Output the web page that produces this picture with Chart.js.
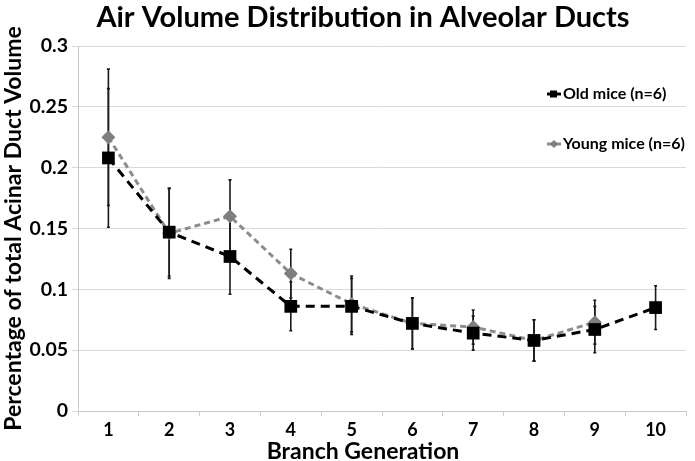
<!DOCTYPE html>
<html>
<head>
<meta charset="utf-8">
<script src="https://cdn.jsdelivr.net/npm/chart.js@4"></script>
<style>
  body { margin: 0; background: #fff; }
  #wrap { width: 695px; height: 461px; }
</style>
</head>
<body>
<div id="wrap"><canvas id="chart"></canvas></div>
<script>
const chart_title = "Air Volume Distribution in Alveolar Ducts";
const x_title = "Branch Generation";
const y_title = "Percentage of total Acinar Duct Volume";
const generations = ["1", "2", "3", "4", "5", "6", "7", "8", "9", "10"];
const old_mice = [0.208, 0.147, 0.127, 0.086, 0.086, 0.072, 0.064, 0.058, 0.067, 0.085];
const old_err = [0.057, 0.036, 0.031, 0.020, 0.023, 0.021, 0.014, 0.017, 0.019, 0.018];
const young_mice = [0.225, 0.146, 0.160, 0.113, 0.088, 0.072, 0.069, 0.058, 0.073, null];
const young_err = [0.056, 0.037, 0.030, 0.020, 0.023, 0.021, 0.014, 0.017, 0.018, null];
const y_ticks = [0, 0.05, 0.1, 0.15, 0.2, 0.25, 0.3];

const FONT = "Lato, 'Open Sans', sans-serif";

// error bars, drawn under the markers
const errorBars = {
  id: "errorBars",
  beforeDatasetsDraw(chart) {
    const ctx = chart.ctx;
    const ys = chart.scales.y;
    chart.data.datasets.forEach((ds, i) => {
      const meta = chart.getDatasetMeta(i);
      ctx.save();
      ctx.strokeStyle = "#1a1a1a";
      ctx.lineWidth = 1.6;
      meta.data.forEach((pt, j) => {
        const v = ds.data[j], e = ds.err[j];
        if (v == null || e == null) return;
        const top = ys.getPixelForValue(v + e);
        const bot = ys.getPixelForValue(v - e);
        ctx.beginPath();
        ctx.moveTo(pt.x, top); ctx.lineTo(pt.x, bot);
        ctx.moveTo(pt.x - 1.5, top); ctx.lineTo(pt.x + 1.5, top);
        ctx.moveTo(pt.x - 1.5, bot); ctx.lineTo(pt.x + 1.5, bot);
        ctx.stroke();
      });
      ctx.restore();
    });
  }
};

// titles + legend in the places the excel chart had them
const extras = {
  id: "extras",
  afterDraw(chart) {
    const ctx = chart.ctx;
    ctx.save();
    ctx.fillStyle = "#000";
    ctx.textAlign = "center";
    ctx.textBaseline = "alphabetic";
    ctx.font = "bold 29px " + FONT;
    ctx.fillText(chart_title, 363, 27);
    ctx.font = "bold 23px " + FONT;
    ctx.fillText(x_title, 363, 459);

    // legend
    const rows = [94, 144];
    chart.data.datasets.forEach((ds, i) => {
      const y = rows[i];
      ctx.save();
      ctx.strokeStyle = ds.borderColor;
      ctx.lineWidth = 3;
      ctx.beginPath();
      ctx.moveTo(547, y); ctx.lineTo(561, y);
      ctx.stroke();
      ctx.fillStyle = ds.pointBackgroundColor;
      if (ds.pointStyle === "rect") {
        ctx.fillRect(550, y - 3.5, 7, 7);
      } else {
        ctx.beginPath();
        ctx.moveTo(554, y - 4); ctx.lineTo(558, y); ctx.lineTo(554, y + 4); ctx.lineTo(550, y);
        ctx.closePath(); ctx.fill();
      }
      ctx.restore();
      ctx.font = "bold 16px " + FONT;
      ctx.textAlign = "left";
      ctx.textBaseline = "middle";
      ctx.fillText(ds.label, 563, y);
    });
    ctx.restore();
  }
};

new Chart(document.getElementById("chart"), {
  type: "line",
  data: {
    labels: generations,
    datasets: [
      {
        label: "Old mice (n=6)",
        data: old_mice,
        err: old_err,
        borderColor: "#000000",
        borderWidth: 3,
        borderDash: [9, 6],
        pointStyle: "rect",
        pointRadius: 9,
        pointBackgroundColor: "#000000",
        pointBorderColor: "#000000",
        pointBorderWidth: 0
      },
      {
        label: "Young mice (n=6)",
        data: young_mice,
        err: young_err,
        borderColor: "#8c8c8c",
        borderWidth: 3,
        borderDash: [6, 4],
        pointStyle: "rectRot",
        pointRadius: 7,
        pointBackgroundColor: "#7f7f7f",
        pointBorderColor: "#7f7f7f",
        pointBorderWidth: 0
      }
    ]
  },
  options: {
    responsive: true,
    maintainAspectRatio: false,
    animation: false,
    layout: { padding: { top: 46, right: 2, left: 0, bottom: 0 } },
    plugins: {
      legend: { display: false },
      tooltip: { enabled: false }
    },
    scales: {
      x: {
        offset: true,
        grid: { offset: true, drawOnChartArea: false, drawTicks: true, tickLength: 5, color: "#d0d0d0" },
        border: { color: "#c8c8c8" },
        ticks: { color: "#000", padding: 3, font: { family: FONT, size: 18, weight: "bold" } },
        afterFit(scale) { scale.height = 50; }
      },
      y: {
        min: 0,
        max: 0.3,
        afterBuildTicks(scale) { scale.ticks = y_ticks.map(v => ({ value: v })); },
        grid: { color: "#d9d9d9", tickLength: 6 },
        border: { color: "#c8c8c8" },
        ticks: {
          color: "#000",
          padding: 4,
          font: { family: FONT, size: 19.5, weight: "bold" },
          callback: v => String(+v.toFixed(2))
        },
        title: {
          display: true,
          text: y_title,
          color: "#000",
          padding: { top: 0, bottom: 2 },
          font: { family: FONT, size: 23, weight: "bold" }
        },
        afterFit(scale) { scale.width = 78; }
      }
    }
  },
  plugins: [errorBars, extras]
});
</script>
</body>
</html>
